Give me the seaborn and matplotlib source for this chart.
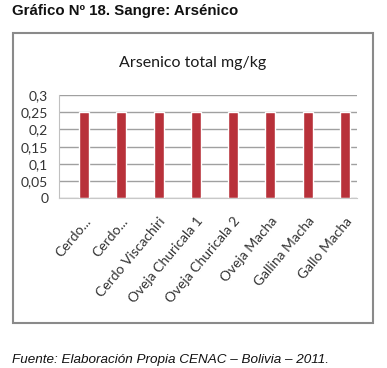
import numpy as np
import pandas as pd
import seaborn as sns
import matplotlib.pyplot as plt
from matplotlib.patches import Rectangle

categorias = ["Cerdo...", "Cerdo...", "Cerdo Viscachiri", "Oveja Churicala 1",
              "Oveja Churicala 2", "Oveja Macha", "Gallina Macha", "Gallo Macha"]
arsenico = [0.25, 0.25, 0.25, 0.25, 0.25, 0.25, 0.25, 0.25]
ticks_y = [0, 0.05, 0.1, 0.15, 0.2, 0.25, 0.3]
etiquetas_y = ["0", "0,05", "0,1", "0,15", "0,2", "0,25", "0,3"]

df = pd.DataFrame({"muestra": range(len(categorias)), "valor": arsenico})

sns.set_style("white")
plt.rcParams["font.family"] = ["Liberation Sans", "DejaVu Sans"]

fig = plt.figure(figsize=(3.87, 3.68), dpi=100)

# marco del grafico (detras de los ejes)
fig.patches.append(Rectangle((0.034, 0.122), 0.930, 0.788, transform=fig.transFigure,
                             facecolor="white", edgecolor="#8a8a8a", linewidth=1.5,
                             zorder=-1))

ax = fig.add_axes([0.1532, 0.4607, 0.7700, 0.2813])
sns.barplot(data=df, x="muestra", y="valor", color="#b8313a", width=0.27,
            saturation=1, ax=ax)

ax.set_ylim(0, 0.3)
# las barras aparecen algo desplazadas a la derecha dentro de cada categoria
ax.set_xlim(-0.665, len(categorias) - 0.665)
ax.set_yticks(ticks_y)
ax.set_yticklabels(etiquetas_y, family="Lato", fontsize=10, color="#333333")
ax.set_xticks(range(len(categorias)))
ax.set_xticklabels(categorias, rotation=50, ha="right", rotation_mode="anchor",
                   family="Lato", fontsize=10, color="#333333")
ax.tick_params(axis="y", length=0, pad=8)
ax.tick_params(axis="x", length=0, pad=12)
ax.grid(axis="y", color="#a0a0a0", linewidth=1)
ax.set_axisbelow(True)
ax.set_xlabel("")
ax.set_ylabel("")
for s in ["top", "right"]:
    ax.spines[s].set_visible(False)
ax.spines["left"].set_color("#c0c0c0")
ax.spines["bottom"].set_color("#c8c8c8")

fig.text(0.499, 0.829, "Arsenico total mg/kg", family="Lato", fontsize=11.5,
         ha="center", va="center", color="#1a1a1a")
fig.text(0.031, 0.970, "Gráfico Nº 18. Sangre: Arsénico", fontsize=10.8,
         fontweight="bold", ha="left", va="center", color="#111111")
fig.text(0.031, 0.022, "Fuente: Elaboración Propia CENAC – Bolivia – 2011.",
         fontsize=9.7, style="italic", ha="left", va="center", color="#111111")

fig.savefig("out.png", dpi=100)
